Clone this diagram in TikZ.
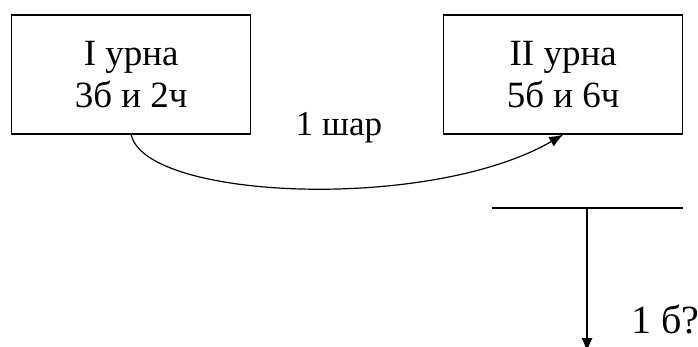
\documentclass[tikz,border=0pt]{standalone}
\usepackage{fontspec}
\setmainfont{Liberation Serif}
\usepackage{tikz}
\usetikzlibrary{arrows.meta,positioning,calc}
\tikzset{%
	urn/.style   = {draw, rectangle, line width=1.4pt, minimum width=239pt, minimum height=119pt, align=center, font=\fontsize{37}{42.6}\selectfont},
	label/.style = {inner sep=0pt, font=\fontsize{35}{40}\selectfont},
	arrow/.style = {line width=1.2pt, -{Latex[length=14pt,width=11pt]}},
	bar/.style   = {line width=2.4pt},
}
\begin{document}
\begin{tikzpicture}[x=1pt,y=-1pt]
	\useasboundingbox (0,0) rectangle (698,346);
	\node[urn] (urnA) at (131.2,74.4) {I урна\\3б и 2ч};  % first urn
	\node[urn] (urnB) at (563.2,74.4) {II урна\\5б и 6ч};  % second urn
	\node[label,anchor=base] (ball) at (339,135) {1 шар};
	\draw[arrow] (urnA.south) .. controls (145,200) and (430,212) .. (urnB.south);
	\coordinate (barL) at (491.7,207.7);
	\coordinate (barR) at (682.7,207.7);
	\coordinate (barM) at (587,207.7);
	\coordinate (drawn) at (587,352);
	\draw[bar] (barL) -- (barR);  % T bar
	\draw[arrow] (barM) -- (drawn);
	\node[label,anchor=base west,font=\fontsize{40}{40}\selectfont] (query) at (631,333.3) {1 б?};
\end{tikzpicture}
\end{document}
